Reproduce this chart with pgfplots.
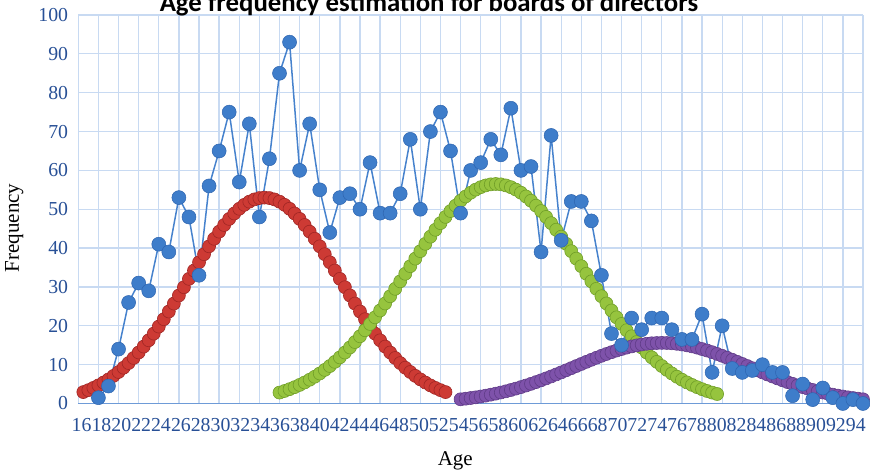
\documentclass[border=0pt]{standalone}
\usepackage{pgfplots}
\pgfplotsset{compat=1.18}
\usepackage{fontspec}
\setmainfont{Liberation Serif}
\newfontfamily\titlefont{Carlito}
\definecolor{gridblue}{RGB}{200,218,242}
\definecolor{axisblue}{RGB}{110,155,215}
\definecolor{tickblue}{RGB}{40,80,150}
\definecolor{sblue}{RGB}{62,125,202}
\definecolor{sbluedk}{RGB}{45,100,175}
\definecolor{slineblue}{RGB}{70,130,205}
\definecolor{sred}{RGB}{205,58,52}
\definecolor{sreddk}{RGB}{160,38,36}
\definecolor{sgreen}{RGB}{150,196,62}
\definecolor{sgreendk}{RGB}{112,158,40}
\definecolor{spurple}{RGB}{126,82,170}
\definecolor{spurpledk}{RGB}{96,60,136}
\begin{document}
\begin{tikzpicture}
\begin{axis}[
  scale only axis, width=784.7pt, height=388.5pt,
  xmin=16, xmax=94, ymin=0, ymax=100,
  xtick={16,18,...,94}, ytick={0,10,...,100},
  xticklabels={},
  extra x ticks={16.33,18.30,20.28,22.25,24.22,26.20,28.17,30.14,32.11,34.09,36.06,38.03,40.01,41.98,43.95,45.93,47.90,49.87,51.84,53.82,55.79,57.76,59.74,61.71,63.68,65.66,67.63,69.60,71.57,73.55,75.52,77.49,79.47,81.44,83.41,85.39,87.36,89.33,91.31,93.28},
  extra x tick labels={16,18,20,22,24,26,28,30,32,34,36,38,40,42,44,46,48,50,52,54,56,58,60,62,64,66,68,70,72,74,76,78,80,82,84,86,88,90,92,94},
  extra x tick style={grid=none, major tick length=0pt},
  grid=major, major grid style={gridblue, line width=1.3pt},
  axis line style={draw=none},
  major tick length=0pt,
  clip=false,
  /pgf/number format/assume math mode=true,
  xticklabel style={font=\fontsize{19.8pt}{20pt}\selectfont, text=tickblue, anchor=north, inner sep=0pt, yshift=-14.5pt},
  yticklabel style={font=\fontsize{19.8pt}{20pt}\selectfont, text=tickblue, anchor=east, inner sep=0pt, xshift=-10pt},
]
\draw[axisblue, line width=1.5pt] (axis cs:16,0) -- (axis cs:94,0);
% red fitted component
\addplot[only marks, mark=*, mark size=6.5pt, mark options={fill=sred, draw=sreddk, line width=0.6pt}] coordinates {
(16.5,2.94) (17,3.44) (17.5,4.01) (18,4.66) (18.5,5.39) (19,6.20) (19.5,7.11) (20,8.11) (20.5,9.21) (21,10.41)
(21.5,11.72) (22,13.13) (22.5,14.65) (23,16.27) (23.5,17.99) (24,19.80) (24.5,21.70) (25,23.68) (25.5,25.72) (26,27.81)
(26.5,29.93) (27,32.08) (27.5,34.22) (28,36.35) (28.5,38.43) (29,40.46) (29.5,42.40) (30,44.23) (30.5,45.94) (31,47.51)
(31.5,48.91) (32,50.12) (32.5,51.14) (33,51.95) (33.5,52.53) (34,52.88) (34.5,53.00) (35,52.88) (35.5,52.53) (36,51.95)
(36.5,51.14) (37,50.12) (37.5,48.91) (38,47.51) (38.5,45.94) (39,44.23) (39.5,42.40) (40,40.46) (40.5,38.43) (41,36.35)
(41.5,34.22) (42,32.08) (42.5,29.93) (43,27.81) (43.5,25.72) (44,23.68) (44.5,21.70) (45,19.80) (45.5,17.99) (46,16.27)
(46.5,14.65) (47,13.13) (47.5,11.72) (48,10.41) (48.5,9.21) (49,8.11) (49.5,7.11) (50,6.20) (50.5,5.39) (51,4.66)
(51.5,4.01) (52,3.44) (52.5,2.94)
};
% green fitted component
\addplot[only marks, mark=*, mark size=6.5pt, mark options={fill=sgreen, draw=sgreendk, line width=0.6pt}] coordinates {
(36,2.81) (36.5,3.22) (37,3.69) (37.5,4.21) (38,4.78) (38.5,5.42) (39,6.12) (39.5,6.89) (40,7.73) (40.5,8.65)
(41,9.64) (41.5,10.72) (42,11.87) (42.5,13.11) (43,14.43) (43.5,15.82) (44,17.30) (44.5,18.86) (45,20.48) (45.5,22.18)
(46,23.94) (46.5,25.75) (47,27.61) (47.5,29.52) (48,31.44) (48.5,33.39) (49,35.34) (49.5,37.29) (50,39.21) (50.5,41.10)
(51,42.94) (51.5,44.72) (52,46.42) (52.5,48.03) (53,49.54) (53.5,50.92) (54,52.18) (54.5,53.29) (55,54.25) (55.5,55.05)
(56,55.68) (56.5,56.13) (57,56.41) (57.5,56.50) (58,56.41) (58.5,56.13) (59,55.68) (59.5,55.05) (60,54.25) (60.5,53.29)
(61,52.18) (61.5,50.92) (62,49.54) (62.5,48.03) (63,46.42) (63.5,44.72) (64,42.94) (64.5,41.10) (65,39.21) (65.5,37.29)
(66,35.34) (66.5,33.39) (67,31.44) (67.5,29.52) (68,27.61) (68.5,25.75) (69,23.94) (69.5,22.18) (70,20.48) (70.5,18.86)
(71,17.30) (71.5,15.82) (72,14.43) (72.5,13.11) (73,11.87) (73.5,10.72) (74,9.64) (74.5,8.65) (75,7.73) (75.5,6.89)
(76,6.12) (76.5,5.42) (77,4.78) (77.5,4.21) (78,3.69) (78.5,3.22) (79,2.81) (79.5,2.44)
};
% purple fitted component
\addplot[only marks, mark=*, mark size=6.5pt, mark options={fill=spurple, draw=spurpledk, line width=0.6pt}] coordinates {
(54,1.08) (54.5,1.24) (55,1.41) (55.5,1.59) (56,1.80) (56.5,2.03) (57,2.27) (57.5,2.54) (58,2.83) (58.5,3.14)
(59,3.48) (59.5,3.84) (60,4.22) (60.5,4.63) (61,5.06) (61.5,5.51) (62,5.97) (62.5,6.46) (63,6.96) (63.5,7.48)
(64,8.01) (64.5,8.55) (65,9.09) (65.5,9.64) (66,10.18) (66.5,10.72) (67,11.25) (67.5,11.77) (68,12.27) (68.5,12.75)
(69,13.21) (69.5,13.63) (70,14.02) (70.5,14.38) (71,14.69) (71.5,14.96) (72,15.19) (72.5,15.37) (73,15.50) (73.5,15.57)
(74,15.60) (74.5,15.57) (75,15.50) (75.5,15.37) (76,15.19) (76.5,14.96) (77,14.69) (77.5,14.38) (78,14.02) (78.5,13.63)
(79,13.21) (79.5,12.75) (80,12.27) (80.5,11.77) (81,11.25) (81.5,10.72) (82,10.18) (82.5,9.64) (83,9.09) (83.5,8.55)
(84,8.01) (84.5,7.48) (85,6.96) (85.5,6.46) (86,5.97) (86.5,5.51) (87,5.06) (87.5,4.63) (88,4.22) (88.5,3.84)
(89,3.48) (89.5,3.14) (90,2.83) (90.5,2.54) (91,2.27) (91.5,2.03) (92,1.80) (92.5,1.59) (93,1.41) (93.5,1.24) (94,1.08)
};
% observed frequencies
\addplot[slineblue, line width=1.5pt, mark=*, mark size=7pt, mark options={fill=sblue, draw=sbluedk, line width=0.5pt}] coordinates {
(18,1.5) (19,4.5) (20,14) (21,26) (22,31) (23,29) (24,41) (25,39) (26,53) (27,48)
(28,33) (29,56) (30,65) (31,75) (32,57) (33,72) (34,48) (35,63) (36,85) (37,93)
(38,60) (39,72) (40,55) (41,44) (42,53) (43,54) (44,50) (45,62) (46,49) (47,49)
(48,54) (49,68) (50,50) (51,70) (52,75) (53,65) (54,49) (55,60) (56,62) (57,68)
(58,64) (59,76) (60,60) (61,61) (62,39) (63,69) (64,42) (65,52) (66,52) (67,47)
(68,33) (69,18) (70,15) (71,22) (72,19) (73,22) (74,22) (75,19) (76,16.5) (77,16.5)
(78,23) (79,8) (80,20) (81,9) (82,8) (83,8.5) (84,10) (85,8) (86,8) (87,2)
(88,5) (89,1) (90,4) (91,1.5) (92,0) (93,1) (94,0)
};
\end{axis}
\node[font=\fontsize{21pt}{22pt}\selectfont, rotate=90] at (-64pt,175.5pt) {Frequency};
\node[font=\fontsize{21pt}{22pt}\selectfont, anchor=base] at (377pt,-62.5pt) {Age};
\node[font=\titlefont\bfseries\fontsize{26.8pt}{28pt}\selectfont, anchor=base] at (350.7pt,391.5pt) {Age frequency estimation for boards of directors};
\pgfresetboundingbox
\useasboundingbox (-78.3pt,-69.5pt) rectangle (791.7pt,403.5pt);
\end{tikzpicture}
\end{document}
